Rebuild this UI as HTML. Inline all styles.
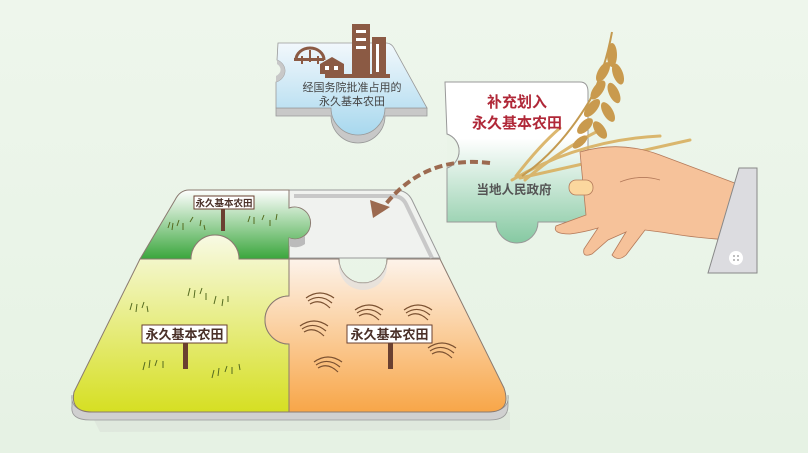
<!DOCTYPE html>
<html><head><meta charset="utf-8"><style>
html,body{margin:0;padding:0;background:#eaf4e8;}
svg{display:block}
text{font-family:"Liberation Sans","Noto Sans CJK SC",sans-serif;}
</style></head><body>
<svg width="808" height="453" viewBox="0 0 808 453" xmlns="http://www.w3.org/2000/svg">
<defs>
<linearGradient id="bg" x1="0" y1="0" x2="0" y2="1"><stop offset="0" stop-color="#eef6ec"/><stop offset="1" stop-color="#e6f2e4"/></linearGradient>
<linearGradient id="gr" x1="0" y1="0" x2="0" y2="1"><stop offset="0" stop-color="#ffffff"/><stop offset="1" stop-color="#3aa63c"/></linearGradient>
<linearGradient id="yl" x1="0" y1="0" x2="0" y2="1"><stop offset="0" stop-color="#f8fae4"/><stop offset="1" stop-color="#d6df22"/></linearGradient>
<linearGradient id="or" x1="0" y1="0" x2="0" y2="1"><stop offset="0" stop-color="#fdf3ea"/><stop offset="1" stop-color="#f8a648"/></linearGradient>
<linearGradient id="bl" x1="0" y1="0" x2="0" y2="1"><stop offset="0" stop-color="#f2f8fc"/><stop offset="1" stop-color="#a8d8ee"/></linearGradient>
<linearGradient id="gp" x1="0" y1="0" x2="0" y2="1"><stop offset="0" stop-color="#ffffff"/><stop offset="0.35" stop-color="#ffffff"/><stop offset="1" stop-color="#86c9a2"/></linearGradient>
</defs>
<rect width="808" height="453" fill="url(#bg)"/>

<!-- main board shadow and thickness -->
<path d="M90 412 L510 412 L510 430 L100 432 Z" fill="#dfe8dd"/>
<path d="M72 395 Q70 410 90 412 L490 412 Q510 410 508 395 L508 406 Q508 420 490 420 L90 420 Q70 420 72 406 Z" fill="#d0d0d0" stroke="#999" stroke-width="0.8"/>

<!-- empty slot top-right -->
<path d="M289 190 L395 190 Q407 190 412 200 L440 258 L289 258 Z" fill="#f0f2ef" stroke="#999" stroke-width="1"/>
<path d="M294 196 L393 196 Q402 196 406 204 L432 258" fill="none" stroke="#c8c8c8" stroke-width="4"/>

<!-- green top-left -->
<path d="M189 190 L289 190 L289 208 A16 16 0 1 1 289 238 L289 259 L239 259 A24 24 0 0 0 191 259 L140 259 L175 200 Q180 190 189 190 Z" fill="url(#gr)" stroke="#8a7a70" stroke-width="1"/>
<path d="M289 238 A16 16 0 0 0 305 236 L305 244 A16 16 0 0 1 289 246 Z" fill="#bbb"/>

<!-- yellow bottom-left -->
<path d="M140 259 L191 259 A24 24 0 0 1 239 259 L289 259 L289 296 A24 24 0 1 0 289 344 L289 412 L92 412 Q70 412 74 392 L140 259 Z" fill="url(#yl)" stroke="#8a7a70" stroke-width="1"/>

<!-- orange bottom-right -->
<path d="M289 259 L339 259 A24 24 0 1 0 387 259 L440 259 L504 388 Q512 412 488 412 L289 412 L289 344 A24 24 0 1 1 289 296 Z" fill="url(#or)" stroke="#8a7a70" stroke-width="1"/>
<path d="M339 259 A24 24 0 0 0 387 259 L387 266 A24 24 0 0 1 339 266 Z" fill="#e0e0e0" opacity="0.7"/>

<!-- grass strokes -->
<g stroke="#556b20" stroke-width="1" fill="none">
<path d="M168 228 l2 -6 M172 230 l1 -7 M177 226 l2 -6 M183 230 l0 -7 M190 222 l3 -5 M200 226 l1 -6 M205 230 l-1 -5 M248 222 l2 -6 M254 224 l0 -7 M262 220 l2 -5 M270 226 l0 -6 M276 220 l1 -6"/>
<path d="M130 310 l2 -7 M136 312 l1 -8 M142 308 l2 -6 M148 312 l-1 -6 M188 296 l2 -8 M194 298 l1 -8 M200 294 l2 -6 M206 300 l0 -7 M214 304 l2 -8 M222 306 l1 -7 M228 302 l0 -6 M143 370 l2 -8 M149 368 l1 -8 M155 366 l2 -6 M163 368 l0 -7 M212 378 l2 -8 M218 376 l1 -8 M225 372 l2 -6 M232 374 l0 -7 M240 370 l-1 -6"/>
</g>
<!-- wheat ears orange -->
<g stroke="#7a5030" stroke-width="1.2" fill="none">
<path d="M306 298 q14 -10 28 0 M308 301 q12 -8 24 2 M310 304 q10 -6 20 4"/>
<path d="M355 310 q14 -10 28 0 M357 313 q12 -8 24 2 M359 316 q10 -6 20 4"/>
<path d="M404 310 q14 -10 28 0 M406 313 q12 -8 24 2 M408 316 q10 -6 20 4"/>
<path d="M300 326 q14 -10 28 0 M302 329 q12 -8 24 2 M304 332 q10 -6 20 4"/>
<path d="M428 348 q14 -10 28 0 M430 351 q12 -8 24 2 M432 354 q10 -6 20 4"/>
<path d="M314 362 q14 -10 28 0 M316 365 q12 -8 24 2 M318 368 q10 -6 20 4"/>
</g>

<!-- signs -->
<rect x="221" y="205" width="4" height="26" fill="#6a4030"/>
<rect x="194" y="196" width="60" height="13" fill="#fff" stroke="#6a4030"/>
<text x="224" y="206.5" font-size="9.5" text-anchor="middle" fill="#4a3028" font-weight="bold">永久基本农田</text>
<rect x="183" y="340" width="5" height="29" fill="#6a4030"/>
<rect x="142" y="325" width="85" height="18" fill="#fff" stroke="#6a4030"/>
<text x="184.5" y="339" font-size="13" text-anchor="middle" fill="#4a3028" font-weight="bold">永久基本农田</text>
<rect x="388" y="340" width="5" height="29" fill="#6a4030"/>
<rect x="347" y="325" width="85" height="18" fill="#fff" stroke="#6a4030"/>
<text x="389.5" y="339" font-size="13" text-anchor="middle" fill="#4a3028" font-weight="bold">永久基本农田</text>

<!-- top blue piece -->
<path d="M276 108 L427 108 L427 116 L385 116 A27 27 0 0 1 331 116 L276 116 Z" fill="#c8c8c8" stroke="#999" stroke-width="0.8"/>
<path d="M278 43 L386 43 Q392 43 395 50 L427 108 L385 108 A27 27 0 1 1 331 108 L276 108 L276 82 A14 12 0 0 0 277 60 Z" fill="url(#bl)" stroke="#999" stroke-width="0.8"/>
<path d="M277 60 A14 12 0 0 1 276 82 L276 76 A12 8 0 0 0 277 64 Z" fill="#c8c8c8"/>
<!-- buildings -->
<g fill="#8b5a44">
<path d="M296 60 a14 12 0 0 1 28 0" fill="none" stroke="#8b5a44" stroke-width="3"/>
<rect x="294" y="58" width="30" height="3"/>
<rect x="301" y="56" width="2" height="8"/><rect x="309" y="50" width="2" height="12"/><rect x="317" y="56" width="2" height="8"/>
<path d="M320 64 L332 57 L344 64 L344 74 L320 74 Z"/>
<rect x="352" y="24" width="18" height="50"/>
<rect x="372" y="37" width="14" height="37"/>
<rect x="325" y="74" width="65" height="4"/>
</g>
<g fill="#fff"><rect x="356" y="30" width="10" height="3"/><rect x="356" y="38" width="10" height="3"/><rect x="356" y="46" width="10" height="3"/><rect x="376" y="44" width="3" height="28"/><rect x="325" y="66" width="4" height="4"/><rect x="334" y="66" width="4" height="4"/></g>
<text x="352" y="91" font-size="11" text-anchor="middle" fill="#444">经国务院批准占用的</text>
<text x="352" y="105" font-size="11" text-anchor="middle" fill="#444">永久基本农田</text>

<!-- right green piece -->
<path d="M445 82 L580 82 Q588 82 588 92 L588 222 L538 222 A21 21 0 1 1 496 222 L447 222 L447 168 A18 18 0 0 0 447 134 Z" fill="url(#gp)" stroke="#999" stroke-width="1"/>
<path d="M447 134 A18 18 0 0 1 447 168" fill="#eaf4e8" stroke="#999" stroke-width="1"/>

<!-- dashed arrow -->
<path d="M490 163 Q425 155 385 205" fill="none" stroke="#9c6a50" stroke-width="4" stroke-dasharray="8 4"/>
<polygon points="373,218 370,200 390,207" fill="#9c6a50"/>

<!-- wheat blades -->
<g fill="none" stroke="#d9b060" stroke-width="3" stroke-linecap="round" opacity="0.9">
<path d="M512 180 Q580 140 660 136"/>
<path d="M520 178 Q600 160 690 140"/>
<path d="M516 176 Q540 145 560 128"/>
<path d="M525 180 Q560 150 600 130"/>
</g>
<path d="M522 176 Q560 150 590 100 Q605 70 612 32" fill="none" stroke="#c49a50" stroke-width="2"/>
<g fill="#c99a4e">
<ellipse cx="612" cy="55" rx="5" ry="12"/>
<ellipse cx="603" cy="72" rx="5" ry="11" transform="rotate(30 603 72)"/>
<ellipse cx="618" cy="74" rx="5" ry="11" transform="rotate(-20 618 74)"/>
<ellipse cx="598" cy="90" rx="5" ry="11" transform="rotate(35 598 90)"/>
<ellipse cx="614" cy="93" rx="5" ry="11" transform="rotate(-25 614 93)"/>
<ellipse cx="592" cy="108" rx="5" ry="11" transform="rotate(40 592 108)"/>
<ellipse cx="608" cy="112" rx="5" ry="11" transform="rotate(-30 608 112)"/>
<ellipse cx="585" cy="126" rx="5" ry="10" transform="rotate(45 585 126)"/>
<ellipse cx="600" cy="130" rx="5" ry="10" transform="rotate(-35 600 130)"/>
<ellipse cx="580" cy="142" rx="4" ry="9" transform="rotate(50 580 142)"/>
</g>
<text x="517" y="107" font-size="15" font-weight="bold" text-anchor="middle" fill="#b02838">补充划入</text>
<text x="517" y="128" font-size="15" font-weight="bold" text-anchor="middle" fill="#b02838">永久基本农田</text>
<text x="514" y="194" font-size="12.5" text-anchor="middle" fill="#555" font-weight="bold">当地人民政府</text>

<!-- hand -->
<path d="M580 152 Q620 140 660 155 L740 185 L730 240 Q700 238 680 235 Q662 232 645 230 L626 255 Q618 262 612 255 L626 232 L608 240 L592 254 Q582 258 584 249 L598 228 Q585 232 570 234 Q552 234 556 226 L586 215 Z" fill="#f6c29a" stroke="#b47a5a" stroke-width="0.8"/>
<rect x="569" y="180" width="24" height="15" rx="7" fill="#fbd79e" stroke="#b47a5a" stroke-width="0.8"/>
<path d="M620 182 Q640 174 660 180" fill="none" stroke="#b47a5a" stroke-width="0.8"/>
<!-- sleeve -->
<polygon points="739,168 757,168 757,273 708,273" fill="#dcdce0" stroke="#888" stroke-width="1"/>
<circle cx="736" cy="258" r="7" fill="#fff"/>
<g fill="#aaa"><circle cx="734" cy="256" r="1"/><circle cx="738" cy="256" r="1"/><circle cx="734" cy="260" r="1"/><circle cx="738" cy="260" r="1"/></g>
</svg>
</body></html>
